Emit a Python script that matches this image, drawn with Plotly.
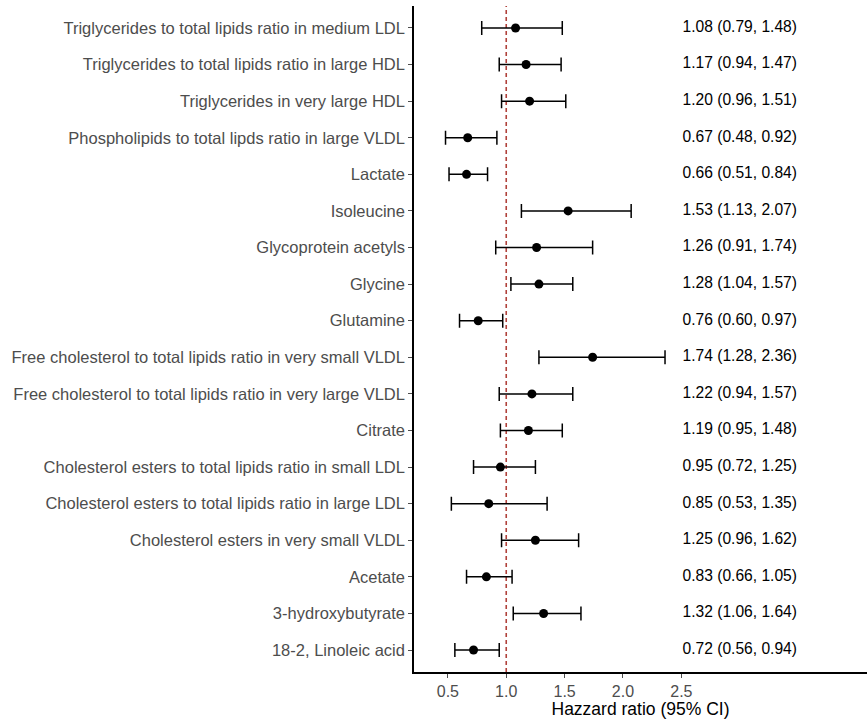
import plotly.graph_objects as go

# Metabolite hazard ratios with 95% confidence intervals (top to bottom)
metabolites = [
    "Triglycerides to total lipids ratio in medium LDL",
    "Triglycerides to total lipids ratio in large HDL",
    "Triglycerides in very large HDL",
    "Phospholipids to total lipds ratio in large VLDL",
    "Lactate",
    "Isoleucine",
    "Glycoprotein acetyls",
    "Glycine",
    "Glutamine",
    "Free cholesterol to total lipids ratio in very small VLDL",
    "Free cholesterol to total lipids ratio in very large VLDL",
    "Citrate",
    "Cholesterol esters to total lipids ratio in small LDL",
    "Cholesterol esters to total lipids ratio in large LDL",
    "Cholesterol esters in very small VLDL",
    "Acetate",
    "3-hydroxybutyrate",
    "18-2, Linoleic acid",
]
hr = [1.08, 1.17, 1.20, 0.67, 0.66, 1.53, 1.26, 1.28, 0.76, 1.74,
      1.22, 1.19, 0.95, 0.85, 1.25, 0.83, 1.32, 0.72]
ci_low = [0.79, 0.94, 0.96, 0.48, 0.51, 1.13, 0.91, 1.04, 0.60, 1.28,
          0.94, 0.95, 0.72, 0.53, 0.96, 0.66, 1.06, 0.56]
ci_high = [1.48, 1.47, 1.51, 0.92, 0.84, 2.07, 1.74, 1.57, 0.97, 2.36,
           1.57, 1.48, 1.25, 1.35, 1.62, 1.05, 1.64, 0.94]
x_ticks = [0.5, 1.0, 1.5, 2.0, 2.5]
null_hr = 1.0
label_x = 3.0  # column where the "HR (95% CI)" text is centred

n = len(metabolites)
ypos = list(range(n, 0, -1))  # first metabolite at the top
y_range = [0.4, n + 0.6]

fig = go.Figure()

# dashed reference line at HR = 1
fig.add_trace(go.Scatter(
    x=[null_hr, null_hr], y=y_range, mode="lines",
    line=dict(color="#b0413b", width=1.6, dash="4px,3px"),
    showlegend=False, hoverinfo="skip",
))

fig.add_trace(go.Scatter(
    x=hr, y=ypos, mode="markers",
    marker=dict(color="black", size=9),
    error_x=dict(type="data", symmetric=False,
                 array=[h - m for h, m in zip(ci_high, hr)],
                 arrayminus=[m - l for m, l in zip(hr, ci_low)],
                 color="black", thickness=1.5, width=7),
    showlegend=False, hoverinfo="skip",
))

# HR (95% CI) text column
fig.add_trace(go.Scatter(
    x=[label_x] * n, y=ypos, mode="text",
    text=[f"{m:.2f} ({l:.2f}, {h:.2f})" for m, l, h in zip(hr, ci_low, ci_high)],
    textposition="middle center",
    textfont=dict(size=15.6, color="black"),
    showlegend=False, hoverinfo="skip", cliponaxis=False,
))

fig.update_layout(
    width=867, height=719,
    margin=dict(l=414, r=0, t=6, b=47),
    plot_bgcolor="white", paper_bgcolor="white",
    font=dict(family="Liberation Sans, Arial, sans-serif"),
    xaxis=dict(range=[0.21, 4.09], tickvals=x_ticks,
               ticktext=[f"{t:.1f}" for t in x_ticks],
               showgrid=False, zeroline=False,
               showline=True, linecolor="black", linewidth=1.5,
               ticks="outside", ticklen=4, tickcolor="#4d4d4d",
               tickfont=dict(size=16, color="#4d4d4d"),
               title=dict(text="Hazzard ratio (95% CI)",
                          font=dict(size=17.5, color="black"), standoff=2)),
    yaxis=dict(range=y_range, tickvals=ypos, ticktext=metabolites,
               showgrid=False, zeroline=False,
               showline=True, linecolor="black", linewidth=1.5,
               ticks="outside", ticklen=4, tickcolor="#4d4d4d",
               tickfont=dict(size=16.5, color="#4d4d4d")),
)

fig.write_html("out.html")
